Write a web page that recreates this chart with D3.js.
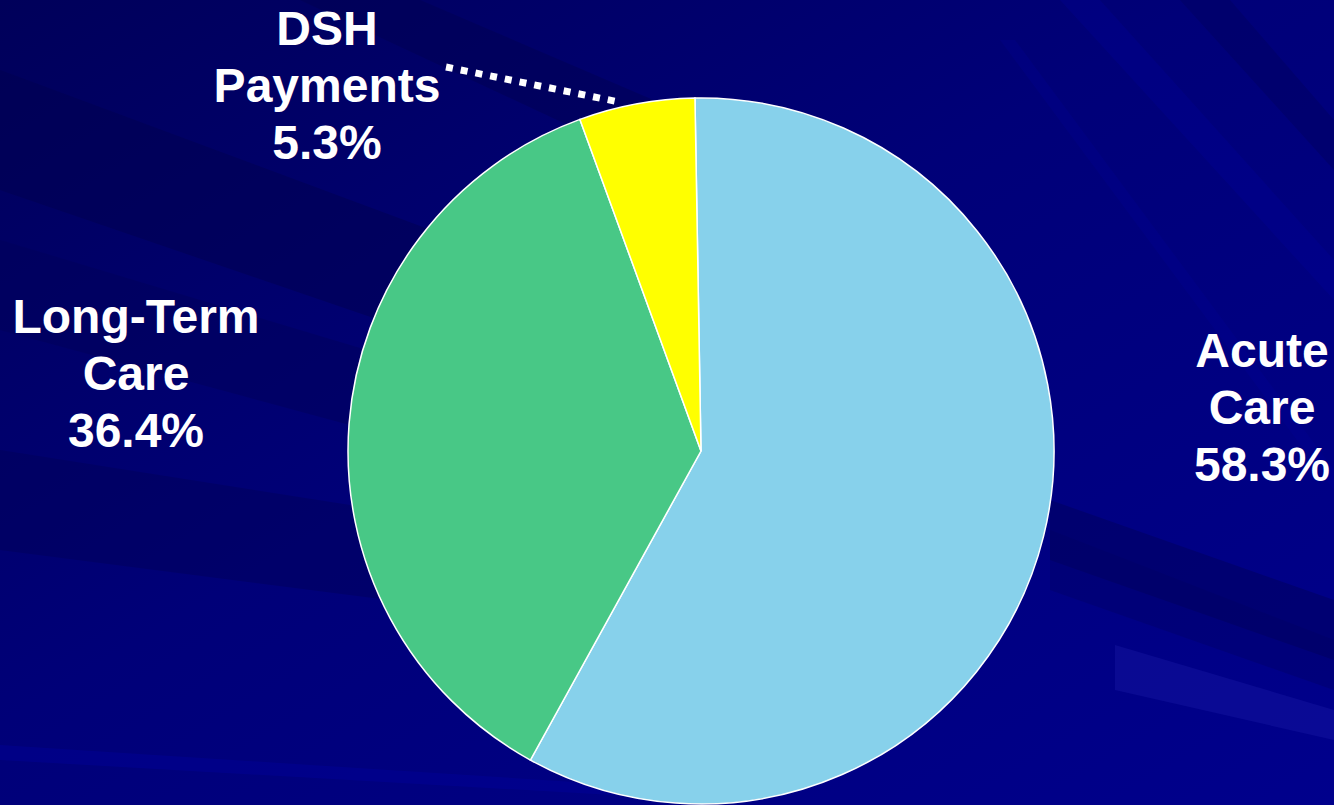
<!DOCTYPE html>
<html>
<head>
<meta charset="utf-8">
<script src="https://cdn.jsdelivr.net/npm/d3@7"></script>
<style>
  html, body { margin: 0; padding: 0; background: #000080; }
  svg { display: block; }
  .label { font-family: "Liberation Sans", Arial, sans-serif; font-weight: bold; font-size: 48px; fill: #fff; }
</style>
</head>
<body>
<svg id="svg" width="1334" height="805"></svg>
<script>
// data
const categories = ['Acute Care', 'Long-Term Care', 'DSH Payments'];
const shares = [58.3, 36.4, 5.3];
const labelLines = [['Acute', 'Care', '58.3%'], ['Long-Term', 'Care', '36.4%'], ['DSH', 'Payments', '5.3%']];
const colors = ['#87d1eb', '#48c886', '#ffff00'];

const width = 1334, height = 805;
const svg = d3.select('#svg');

// ── background: navy with soft streaks ──
const defs = svg.append('defs');
const bg = defs.append('linearGradient').attr('id', 'bg')
  .attr('x1', 0).attr('y1', 0).attr('x2', 1).attr('y2', 1);
bg.append('stop').attr('offset', 0).attr('stop-color', '#00005a');
bg.append('stop').attr('offset', 0.45).attr('stop-color', '#000078');
bg.append('stop').attr('offset', 1).attr('stop-color', '#00008c');
svg.append('rect').attr('width', width).attr('height', height).attr('fill', 'url(#bg)');

const streaks = [
  { pts: [[0, 70], [0, 190], [700, 430], [700, 330]], fill: '#000050', op: 0.5 },
  { pts: [[0, 240], [0, 330], [700, 520], [700, 450]], fill: '#000058', op: 0.45 },
  { pts: [[0, 450], [0, 550], [700, 640], [700, 560]], fill: '#000055', op: 0.4 },
  { pts: [[0, 745], [0, 760], [700, 800], [700, 790]], fill: '#0000a0', op: 0.35 },
  { pts: [[1050, 500], [1050, 560], [1334, 660], [1334, 600]], fill: '#000060', op: 0.55 },
  { pts: [[1050, 530], [1050, 590], [1334, 690], [1334, 640]], fill: '#000060', op: 0.35 },
  { pts: [[1115, 645], [1115, 690], [1334, 740], [1334, 710]], fill: '#2020b0', op: 0.3 },
  { pts: [[1060, 0], [1100, 0], [1334, 260], [1334, 300]], fill: '#0000a8', op: 0.2 },
  { pts: [[1180, 0], [1230, 0], [1334, 120], [1334, 170]], fill: '#000060', op: 0.45 },
  { pts: [[1000, 40], [1015, 40], [1334, 470], [1334, 490]], fill: '#0000a0', op: 0.2 },
  { pts: [[300, 0], [420, 0], [700, 120], [600, 140]], fill: '#000050', op: 0.45 }
];
svg.append('g').selectAll('polygon').data(streaks).join('polygon')
  .attr('points', d => d.pts.map(p => p.join(',')).join(' '))
  .attr('fill', d => d.fill).attr('opacity', d => d.op);

// ── pie ──
const cx = 701, cy = 451, radius = 353;
const startAngle = -0.0171;
const pie = d3.pie().sort(null).value(d => d)
  .startAngle(startAngle).endAngle(startAngle + 2 * Math.PI);
const arcs = pie(shares);
const arc = d3.arc().innerRadius(0).outerRadius(radius);
const color = d3.scaleOrdinal().domain(categories).range(colors);

const g = svg.append('g').attr('transform', `translate(${cx},${cy})`);
g.selectAll('path').data(arcs).join('path')
  .attr('d', arc)
  .attr('fill', (d, i) => color(categories[i]))
  .attr('stroke', '#fff').attr('stroke-width', 1.5);

// ── labels (positions) ──
const labelPos = [[1262, 367], [136, 333], [327, 45]];
const lineH = 57;
labelLines.forEach((lines, i) => {
  const t = svg.append('text').attr('class', 'label').attr('text-anchor', 'middle')
    .attr('x', labelPos[i][0]).attr('y', labelPos[i][1]);
  lines.forEach((s, j) => t.append('tspan').attr('x', labelPos[i][0]).attr('dy', j ? lineH : 0).text(s));
});

// dotted leader for the small DSH slice
const dsh = arcs[2];
const leadA = dsh.startAngle + (dsh.endAngle - dsh.startAngle) * 0.35;
const leadEnd = [cx + (radius + 6) * Math.sin(leadA), cy - (radius + 6) * Math.cos(leadA)];
svg.append('line')
  .attr('x1', 446).attr('y1', 67)
  .attr('x2', leadEnd[0]).attr('y2', leadEnd[1])
  .attr('stroke', '#fff').attr('stroke-width', 7)
  .attr('stroke-dasharray', '7,8');
</script>
</body>
</html>
